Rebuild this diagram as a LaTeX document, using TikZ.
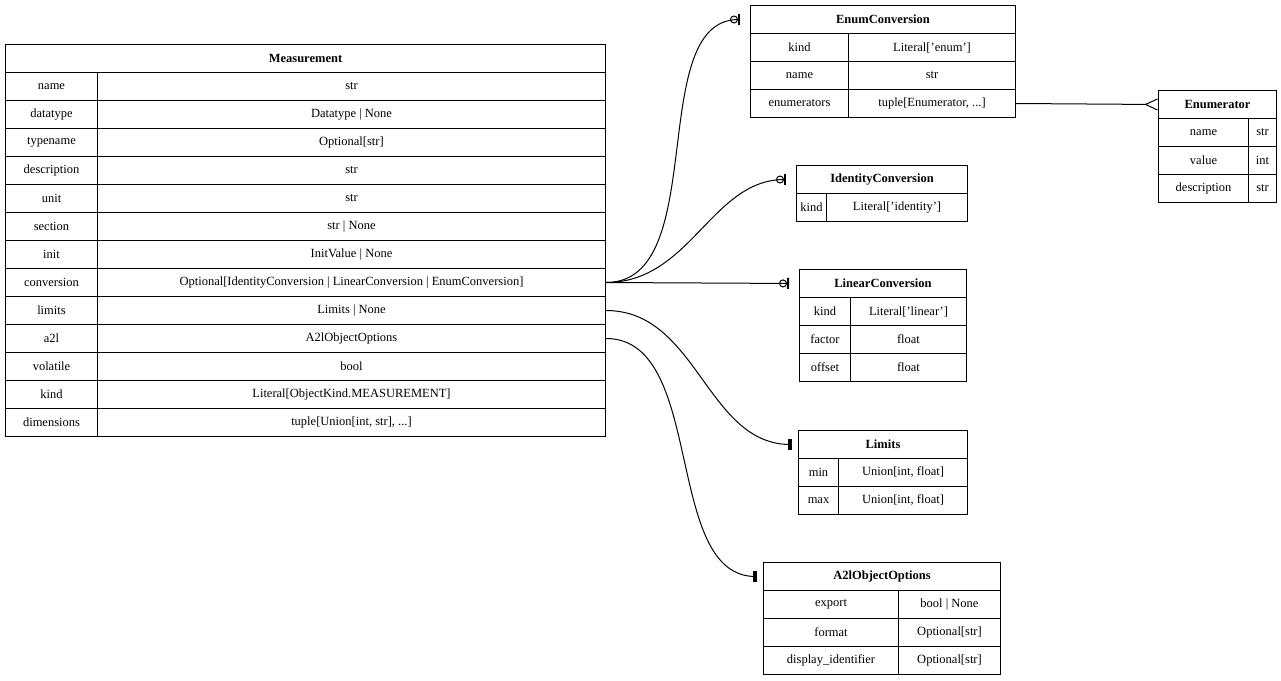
\documentclass[tikz,border=0pt]{standalone}
\usepackage{fontspec}
\setmainfont{Liberation Serif}
\usetikzlibrary{arrows.meta}

\tikzset{
  cell/.style={draw, line width=1pt, minimum height=28pt, inner sep=0pt, anchor=north west, font=\fontsize{12.5}{14}\selectfont},
  head/.style={cell, font=\fontsize{12.5}{14}\selectfont\bfseries},
  link/.style={line width=1pt},
  zeroone/.style={link, -{Circle[open,length=8pt,width=8pt] Bar[width=11pt,line width=2pt]}, shorten >=10pt},
  oneone/.style={link, -{Bar[width=11pt,line width=2pt] Bar[width=11pt,line width=2pt]}, shorten >=6pt},
  many/.style={link, -{Straight Barb[reversed,length=12pt,width=11pt,line width=1pt]}}
}

\begin{document}
\begin{tikzpicture}[x=1pt, y=-1pt]
  \useasboundingbox (0,0) rectangle (1281,680);

  % Measurement
  \node[head, minimum width=600pt] (meas) at (5,44) {Measurement};
  \foreach \k/\v [count=\i] in {name/str, datatype/{Datatype | None}, typename/{Optional[str]},
      description/str, unit/str, section/{str | None}, init/{InitValue | None},
      conversion/{Optional[IdentityConversion | LinearConversion | EnumConversion]},
      limits/{Limits | None}, a2l/{A2lObjectOptions}, volatile/bool,
      kind/{Literal[ObjectKind.MEASUREMENT]}, dimensions/{tuple[Union[int, str], ...]}} {
    \node[cell, minimum width=92pt] (meas-k\i) at (5,44+28*\i) {\k};
    \node[cell, minimum width=508pt] (meas-\i) at (97,44+28*\i) {\v};
  }

  % EnumConversion
  \node[head, minimum width=265pt] (enumc) at (750,5) {EnumConversion};
  \foreach \k/\v [count=\i] in {kind/{Literal['enum']}, name/str, enumerators/{tuple[Enumerator, ...]}} {
    \node[cell, minimum width=98pt] (enumc-k\i) at (750,5+28*\i) {\k};
    \node[cell, minimum width=167pt] (enumc-\i) at (848,5+28*\i) {\v};
  }

  % Enumerator
  \node[head, minimum width=118pt] (enumr) at (1158,90) {Enumerator};
  \foreach \k/\v [count=\i] in {name/str, value/int, description/str} {
    \node[cell, minimum width=90pt] (enumr-k\i) at (1158,90+28*\i) {\k};
    \node[cell, minimum width=28pt] (enumr-\i) at (1248,90+28*\i) {\v};
  }

  % IdentityConversion
  \node[head, minimum width=171pt] (ident) at (796,165) {IdentityConversion};
  \node[cell, minimum width=30pt] (ident-k1) at (796,193) {kind};
  \node[cell, minimum width=141pt] (ident-1) at (826,193) {Literal['identity']};

  % LinearConversion
  \node[head, minimum width=167pt] (linc) at (799,269) {LinearConversion};
  \foreach \k/\v [count=\i] in {kind/{Literal['linear']}, factor/float, offset/float} {
    \node[cell, minimum width=51pt] (linc-k\i) at (799,269+28*\i) {\k};
    \node[cell, minimum width=116pt] (linc-\i) at (850,269+28*\i) {\v};
  }

  % Limits
  \node[head, minimum width=169pt] (lim) at (798,430) {Limits};
  \foreach \k/\v [count=\i] in {min/{Union[int, float]}, max/{Union[int, float]}} {
    \node[cell, minimum width=40pt] (lim-k\i) at (798,430+28*\i) {\k};
    \node[cell, minimum width=129pt] (lim-\i) at (838,430+28*\i) {\v};
  }

  % A2lObjectOptions
  \node[head, minimum width=237pt] (a2l) at (763,562) {A2lObjectOptions};
  \foreach \k/\v [count=\i] in {export/{bool | None}, format/{Optional[str]}, display\_identifier/{Optional[str]}} {
    \node[cell, minimum width=135pt] (a2l-k\i) at (763,562+28*\i) {\k};
    \node[cell, minimum width=102pt] (a2l-\i) at (898,562+28*\i) {\v};
  }

  % relations
  \draw[zeroone] (meas-8.east) to[out=0, in=180, looseness=0.9] (enumc.west);
  \draw[zeroone] (meas-8.east) to[out=0, in=180] (ident.west);
  \draw[zeroone] (meas-8.east) -- (linc.west);
  \draw[oneone] (meas-9.east) to[out=0, in=180] (lim.west);
  \draw[oneone] (meas-10.east) to[out=0, in=180, looseness=0.9] (a2l.west);
  \draw[many] (enumc-3.east) -- (enumr.west);
\end{tikzpicture}
\end{document}
